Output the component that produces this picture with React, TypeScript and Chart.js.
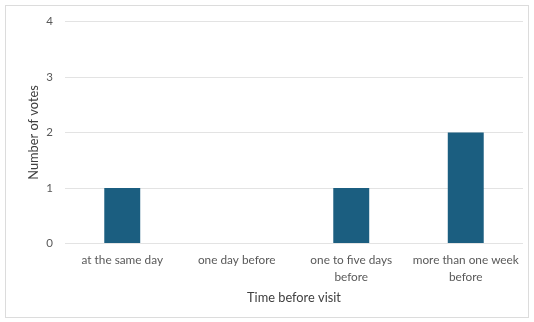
import React, { useEffect, useRef } from "react";
import { Chart, registerables } from "chart.js";

Chart.register(...registerables);

const categories: (string | string[])[] = [
  "at the same day",
  "one day before",
  ["one to five days", "before"],
  ["more than one week", "before"],
];
const votes: number[] = [1, 0, 1, 2];
const yTitle = "Number of votes";
const xTitle = "Time before visit";

const frame = {
  id: "frame",
  beforeDraw(chart: any) {
    const ctx = chart.ctx;
    ctx.save();
    ctx.fillStyle = "#ffffff";
    ctx.fillRect(0, 0, chart.width, chart.height);
    ctx.strokeStyle = "#dcdcdc";
    ctx.lineWidth = 1;
    ctx.strokeRect(5.5, 5.5, chart.width - 11, chart.height - 10);
    ctx.restore();
  },
};

export default function App() {
  const ref = useRef<HTMLCanvasElement>(null);
  useEffect(() => {
    document.body.style.margin = "0";
    const font = "Lato, 'Open Sans', sans-serif";
    const chart = new Chart(ref.current!, {
      type: "bar",
      data: {
        labels: categories,
        datasets: [
          {
            data: votes,
            backgroundColor: "#1b5e80",
            categoryPercentage: 1,
            barPercentage: 0.314,
          },
        ],
      },
      options: {
        animation: false,
        responsive: false,
        maintainAspectRatio: false,
        layout: { padding: { top: 21.5, right: 11, left: 0, bottom: 0 } },
        plugins: { legend: { display: false }, tooltip: { enabled: false } },
        scales: {
          x: {
            grid: { display: false },
            border: { display: false },
            ticks: {
              color: "#595959",
              font: { family: font, size: 11.8, lineHeight: 1.4 },
              padding: 0.5,
              maxRotation: 0,
              autoSkip: false,
            },
            title: {
              display: true,
              text: xTitle,
              color: "#404040",
              font: { family: font, size: 12.8 },
              padding: { top: 4, bottom: 16 },
            },
            afterFit(scale: any) {
              scale.height = 322 - 243.5;
            },
          },
          y: {
            min: 0,
            max: 4,
            ticks: {
              stepSize: 1,
              color: "#595959",
              font: { family: font, size: 11.5 },
              padding: 12,
            },
            grid: { color: "#e3e3e3", drawTicks: false },
            border: { display: false },
            title: {
              display: true,
              text: yTitle,
              color: "#404040",
              font: { family: font, size: 12.8 },
              padding: { top: 26, bottom: 0 },
            },
            afterFit(scale: any) {
              scale.width = 65;
            },
          },
        },
      },
      plugins: [frame],
    });
    return () => chart.destroy();
  }, []);
  return <canvas ref={ref} width={534} height={322} style={{ display: "block" }} />;
}
